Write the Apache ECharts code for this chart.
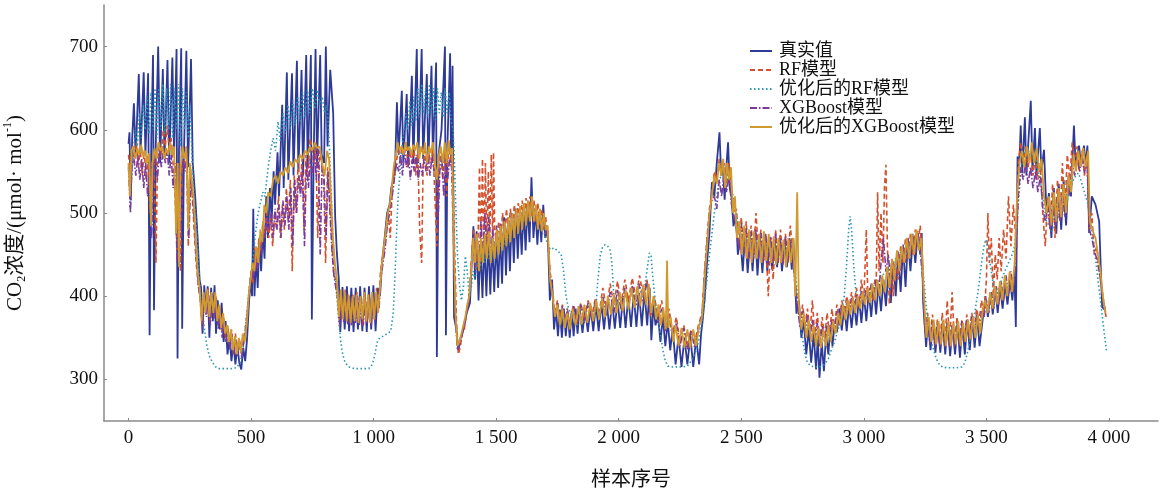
<!DOCTYPE html>
<html>
<head>
<meta charset="utf-8">
<script src="https://cdn.jsdelivr.net/npm/echarts@6/dist/echarts.min.js"></script>
<style>
  html, body { margin: 0; padding: 0; background: #fff; }
  #chart { width: 1166px; height: 494px; }
</style>
</head>
<body>
<div id="chart"></div>
<script>
const seriesNames = ['真实值', 'RF模型', '优化后的RF模型', 'XGBoost模型', '优化后的XGBoost模型'];
const xTicks = [0, 500, 1000, 1500, 2000, 2500, 3000, 3500, 4000];
const yTicks = [300, 400, 500, 600, 700];

// 真实值
const trueVals = [[0,583],[4,597],[9,515],[15,590],[22,632],[29,568],[42,667],[49,572],[62,669],[69,570],[80,668],[86,353],[93,590],[100,690],[104,383],[111,580],[121,700],[129,560],[140,673],[147,565],[159,684],[166,560],[179,687],[186,570],[196,697],[200,325],[206,575],[215,698],[219,361],[226,570],[236,695],[243,555],[255,685],[262,560],[272,520],[282,470],[290,420],
[296,410],[302,355],[309,413],[316,380],[323,412],[330,350],[337,410],[344,370],[351,413],[357,355],[364,395],[372,360],[380,392],[388,345],[396,370],[404,330],[412,352],[420,322],[428,345],[436,318],[444,340],[452,320],[460,312],[468,338],[476,322],[484,350],[492,395],[499,420],[504,400],[509,505],[514,400],[520,450],[527,410],[534,470],[541,430],[548,480],[555,445],[562,520],[569,470],[577,530],[584,490],
[592,550],[598,510],[608,573],[614,520],[627,630],[633,530],[646,669],[652,540],[667,668],[673,545],[687,683],[693,550],[706,672],[712,545],[725,690],[731,555],[744,690],[748,372],[755,560],[763,697],[769,560],[782,690],[788,570],[798,560],[805,700],[812,580],[823,672],[835,620],[843,496],[850,452],[858,420],
[864,357],[873,411],[882,360],[891,412],[900,358],[909,410],[918,357],[927,410],[936,360],[945,412],[954,358],[963,410],[972,357],[981,412],[990,360],[999,413],[1008,358],[1017,410],[1026,400],[1034,440],[1045,470],[1055,500],[1065,510],[1072,530],[1080,540],[1088,560],[1095,633],[1102,570],[1115,647],[1121,560],[1135,643],[1141,555],[1156,665],[1162,560],[1176,697],[1182,560],[1196,697],[1202,565],[1217,667],[1223,560],[1236,677],[1242,565],[1255,681],[1258,327],[1265,570],[1277,600],[1291,700],[1295,353],[1301,580],[1312,692],[1316,560],[1322,677],[1328,375],[1338,360],[1345,335],[1355,350],[1366,360],[1380,380],[1393,392],[1400,440],
[1407,484],[1414,420],[1420,478],[1428,395],[1436,462],[1444,398],[1452,466],[1460,400],[1468,470],[1476,402],[1484,465],[1492,405],[1500,470],[1508,410],[1516,475],[1524,415],[1532,495],[1540,425],[1548,490],[1556,430],[1564,500],[1572,440],[1580,505],[1588,445],[1596,500],[1604,450],[1612,505],[1620,455],[1628,510],[1636,465],[1644,543],[1652,470],[1660,505],[1668,462],[1676,500],[1684,465],[1692,510],[1700,470],[1710,480],[1719,395],[1728,420],[1736,360],[1744,385],[1752,352],[1760,384],[1768,350],[1776,385],[1784,352],[1792,380],[1800,350],[1808,382],[1816,352],[1824,385],[1832,355],[1840,387],
[1852,356],[1863,385],[1874,357],[1885,388],[1896,358],[1907,390],[1918,358],[1929,392],[1940,360],[1951,393],[1962,360],[1973,395],[1984,361],[1995,396],[2006,362],[2017,398],[2028,362],[2039,400],[2050,363],[2061,402],[2072,363],[2083,404],[2094,364],[2105,406],[2116,365],[2126,410],[2133,347],[2142,390],[2150,365],[2160,378],[2170,345],[2180,375],[2190,340],[2200,370],[2210,335],[2220,362],[2232,318],[2244,352],[2256,315],[2268,350],[2280,318],[2292,352],[2304,315],[2316,350],[2328,318],[2336,355],[2342,370],[2350,395],[2360,440],[2370,476],[2380,537],[2390,520],[2400,560],[2411,597],[2418,545],[2425,556],[2432,516],[2440,560],[2446,585],[2453,530],[2460,520],[2468,484],[2478,500],[2486,450],
[2496,470],[2506,430],[2516,478],[2526,428],[2536,472],[2546,430],[2556,480],[2566,425],[2576,470],[2586,428],[2596,475],[2606,430],[2616,470],[2626,432],[2636,468],[2646,435],[2656,470],[2666,430],[2676,465],[2686,435],[2696,470],[2706,432],[2712,470],[2725,379],[2735,395],[2745,350],[2755,370],[2765,330],[2775,360],[2785,320],[2795,355],[2805,312],[2812,350],[2819,302],[2828,345],[2837,310],[2846,355],[2855,330],[2864,365],[2872,340],[2880,365],
[2890,357],[2900,385],[2910,359],[2920,388],[2930,358],[2940,390],[2950,362],[2960,392],[2970,365],[2980,398],[2990,368],[3000,402],[3010,370],[3020,405],[3030,375],[3040,411],[3050,378],[3060,415],[3070,382],[3080,420],[3090,388],[3100,428],[3110,392],[3120,440],[3130,400],[3140,450],[3150,405],[3160,460],[3170,411],[3180,468],[3190,430],[3200,470],[3210,440],[3220,476],[3230,450],[3236,476],[3242,392],[3254,339],[3262,370],[3272,335],[3282,370],[3292,332],[3302,368],[3312,332],[3322,370],[3332,330],[3342,368],[3352,328],[3362,365],[3372,330],[3382,367],[3392,326],[3402,365],[3412,330],[3422,370],[3432,335],[3442,372],[3452,338],[3462,375],[3472,340],[3486,375],
[3496,400],[3506,375],[3516,405],[3526,378],[3536,410],[3546,380],[3556,411],[3566,385],[3576,415],[3586,390],[3596,420],[3606,395],[3614,430],[3620,363],[3627,568],[3633,550],[3640,605],[3646,548],[3657,615],[3663,545],[3681,635],[3688,550],[3698,602],[3704,545],[3718,602],[3724,550],[3735,576],[3745,500],[3755,524],[3765,470],[3775,530],[3785,475],[3795,535],[3805,480],[3815,540],[3825,485],[3835,545],[3845,520],[3857,605],[3864,557],[3878,581],[3886,557],[3898,581],[3905,557],[3912,581],[3919,476],[3930,520],[3945,510],[3960,490],[3972,387],[3986,383]];

// RF模型
const rfVals = [[0,570],[8,545],[16,580],[24,560],[32,585],[40,555],[48,578],[56,545],[64,575],[72,540],[80,570],[88,500],[96,560],[104,570],[112,440],[118,560],[126,585],[134,570],[142,600],[150,580],[158,605],[166,575],[174,590],[182,560],[190,520],[198,455],[204,560],[212,430],[220,575],[228,560],[236,580],[244,460],[252,555],[260,520],[268,480],[276,440],[284,415],[292,400],[300,365],[308,405],[316,378],[324,410],[332,370],[340,405],[348,375],[356,400],[364,365],[372,385],[380,358],[388,375],[396,350],[404,365],[412,342],[420,360],[428,330],[436,355],[444,335],[452,350],[460,330],[468,345],[476,360],[484,380],[492,405],[500,430],[508,415],[516,460],[524,440],[532,470],[540,455],[548,490],[556,475],[564,500],[572,470],[580,495],[588,460],[596,500],[604,480],[612,520],[620,470],[628,510],[636,480],[644,530],[652,490],[660,540],[668,430],[676,545],[684,500],[692,560],[700,530],[708,565],[716,480],[724,570],[732,540],[740,590],[748,580],[756,560],[764,580],[772,470],[780,575],[788,560],[796,545],[804,440],[812,555],[820,520],[828,480],[836,430],[844,420],[852,405],[860,370],[868,405],[876,372],[884,408],[892,370],[900,400],[908,368],[916,402],[924,370],[932,405],[940,372],[948,400],[956,365],[964,400],[972,368],[980,402],[988,370],[996,400],[1004,372],[1012,410],[1020,385],[1028,430],[1036,445],[1044,460],[1052,480],[1060,500],[1068,470],[1076,530],[1084,540],[1092,560],[1100,575],[1108,565],[1116,580],[1124,570],[1132,585],[1140,555],[1148,575],[1156,560],[1164,580],[1172,545],[1180,575],[1188,480],[1196,440],[1202,560],[1210,575],[1218,545],[1226,570],[1234,560],[1242,578],[1250,520],[1258,460],[1266,560],[1274,575],[1282,540],[1290,580],[1298,520],[1306,585],[1314,560],[1322,580],[1330,460],[1338,370],[1346,330],[1354,340],[1362,355],[1370,360],[1378,380],[1386,390],[1394,420],[1402,460],[1410,480],[1418,430],[1426,470],[1432,555],[1438,440],[1444,565],[1450,450],[1456,560],[1462,460],[1468,550],[1474,470],[1480,570],[1486,455],[1489,573],[1494,480],[1502,460],[1510,490],[1518,465],[1526,500],[1534,470],[1542,505],[1550,475],[1558,505],[1566,480],[1574,510],[1582,485],[1590,512],[1598,490],[1606,515],[1614,492],[1622,518],[1630,495],[1638,520],[1646,495],[1654,515],[1662,490],[1670,512],[1678,485],[1686,505],[1694,480],[1702,495],[1710,470],[1720,430],[1730,405],[1740,380],[1750,395],[1760,370],[1770,390],[1780,365],[1790,385],[1800,365],[1815,390],[1830,368],[1845,392],[1860,372],[1875,395],[1890,375],[1905,398],[1920,378],[1935,410],[1950,385],[1965,415],[1980,390],[1995,418],[2010,392],[2025,420],[2040,395],[2055,422],[2070,398],[2085,425],[2100,400],[2115,420],[2130,375],[2145,400],[2160,375],[2175,395],[2190,365],[2205,385],[2220,355],[2235,375],[2250,345],[2265,365],[2280,340],[2295,360],[2310,345],[2325,365],[2340,380],[2350,430],[2360,470],[2370,505],[2380,525],[2390,550],[2400,540],[2410,565],[2420,545],[2430,560],[2440,535],[2450,560],[2460,530],[2470,500],[2480,505],[2490,460],[2500,495],[2510,455],[2520,490],[2530,445],[2540,485],[2550,450],[2560,500],[2570,455],[2580,480],[2590,440],[2600,470],[2610,400],[2620,470],[2630,420],[2640,480],[2650,440],[2660,480],[2670,440],[2680,475],[2690,445],[2700,485],[2710,450],[2720,420],[2730,390],[2740,370],[2750,390],[2760,365],[2770,385],[2780,355],[2790,395],[2800,350],[2810,380],[2820,345],[2830,375],[2840,350],[2850,380],[2860,355],[2870,385],[2880,360],[2890,390],[2900,370],[2910,395],[2920,380],[2930,400],[2940,385],[2950,405],[2960,390],[2970,410],[2980,385],[2990,420],[3000,395],[3010,480],[3016,400],[3025,410],[3035,395],[3045,420],[3050,410],[3056,525],[3062,430],[3070,500],[3078,440],[3084,530],[3090,558],[3096,460],[3104,390],[3112,440],[3120,400],[3130,445],[3140,420],[3150,460],[3160,440],[3170,470],[3180,445],[3190,475],[3200,450],[3210,480],[3220,460],[3230,485],[3240,430],[3250,360],[3260,380],[3270,350],[3280,378],[3290,345],[3300,372],[3310,345],[3320,380],[3330,340],[3340,395],[3350,345],[3360,405],[3370,340],[3380,375],[3390,345],[3400,372],[3410,348],[3420,378],[3430,352],[3440,380],[3450,360],[3460,385],[3470,370],[3480,395],[3490,375],[3500,420],[3506,500],[3512,440],[3520,470],[3528,400],[3536,450],[3544,420],[3552,470],[3560,430],[3570,480],[3580,445],[3590,520],[3600,460],[3610,510],[3620,470],[3630,560],[3640,585],[3650,560],[3660,580],[3670,555],[3680,575],[3690,545],[3700,570],[3710,540],[3720,560],[3730,500],[3740,460],[3750,520],[3760,480],[3770,535],[3780,470],[3790,540],[3800,490],[3810,560],[3820,500],[3830,570],[3840,540],[3850,585],[3860,555],[3870,580],[3880,550],[3890,575],[3900,545],[3910,570],[3920,480],[3930,500],[3940,450],[3950,460],[3960,430],[3970,410],[3980,390],[3988,375]];

// 优化后的RF模型
const rfOptVals = [[5,507],[12,540],[20,575],[28,600],[36,580],[44,620],[52,590],[60,630],[68,600],[76,640],[84,595],[92,645],[100,600],[108,650],[116,590],[124,650],[132,600],[140,655],[148,595],[156,650],[164,600],[172,655],[180,590],[188,650],[196,600],[204,655],[212,580],[220,650],[228,600],[236,645],[244,590],[252,630],[260,560],[268,520],[276,490],[284,450],[292,410],[300,385],[310,360],[320,340],[330,328],[340,322],[352,316],[364,313],[380,313],[400,313],[420,313],[440,314],[456,320],[466,335],[476,360],[486,390],[496,420],[506,440],[516,470],[524,490],[532,505],[540,515],[548,525],[556,520],[564,540],[572,560],[580,575],[590,590],[600,575],[610,610],[620,585],[630,620],[640,595],[650,630],[660,600],[670,635],[680,605],[690,640],[700,610],[710,645],[720,615],[730,648],[740,620],[750,650],[760,625],[770,648],[780,630],[790,640],[800,620],[810,630],[818,590],[826,530],[834,470],[842,430],[850,400],[858,370],[866,345],[874,330],[882,322],[890,318],[900,315],[920,313],[940,313],[960,313],[980,313],[995,318],[1005,330],[1015,345],[1025,350],[1040,352],[1055,355],[1070,358],[1080,380],[1088,430],[1094,480],[1100,520],[1108,550],[1116,580],[1124,600],[1132,620],[1140,600],[1148,635],[1156,605],[1164,640],[1172,610],[1180,650],[1188,615],[1196,655],[1204,620],[1212,650],[1220,615],[1228,655],[1236,620],[1244,650],[1252,610],[1260,650],[1268,620],[1276,645],[1284,615],[1292,650],[1300,620],[1308,645],[1316,610],[1324,600],[1330,560],[1336,500],[1342,450],[1350,415],[1358,395],[1366,410],[1374,448],[1382,430],[1390,400],[1398,410],[1406,430],[1414,420],[1422,440],[1432,430],[1442,450],[1452,440],[1462,455],[1472,445],[1482,460],[1492,450],[1502,465],[1512,455],[1522,470],[1532,462],[1542,478],[1552,470],[1562,485],[1572,478],[1582,492],[1592,485],[1602,498],[1612,490],[1622,502],[1632,495],[1642,505],[1652,495],[1662,500],[1672,490],[1682,495],[1692,480],[1702,470],[1712,460],[1722,456],[1735,458],[1750,455],[1765,450],[1775,430],[1785,400],[1795,385],[1805,378],[1820,370],[1835,365],[1850,368],[1865,372],[1880,375],[1895,372],[1905,380],[1915,420],[1925,450],[1935,460],[1945,462],[1955,460],[1965,455],[1972,440],[1980,400],[1990,385],[2000,390],[2015,395],[2030,392],[2045,398],[2060,395],[2075,400],[2090,398],[2105,410],[2115,430],[2125,452],[2132,448],[2140,420],[2150,390],[2160,370],[2170,355],[2180,335],[2190,322],[2200,316],[2220,315],[2240,315],[2260,315],[2280,316],[2295,322],[2310,330],[2325,345],[2340,370],[2350,395],[2360,420],[2370,450],[2380,475],[2390,500],[2400,520],[2410,540],[2420,545],[2430,555],[2440,540],[2450,550],[2460,530],[2470,515],[2480,500],[2490,480],[2500,470],[2515,465],[2530,460],[2545,458],[2560,462],[2575,455],[2590,458],[2605,452],[2620,455],[2635,450],[2650,455],[2665,450],[2680,455],[2695,450],[2710,448],[2720,430],[2730,400],[2740,370],[2750,350],[2760,330],[2770,320],[2785,316],[2800,315],[2820,315],[2840,318],[2855,325],[2870,338],[2880,345],[2890,355],[2900,365],[2910,380],[2920,400],[2930,440],[2938,480],[2944,496],[2950,480],[2958,440],[2966,410],[2974,395],[2985,390],[3000,395],[3015,400],[3030,405],[3045,410],[3060,418],[3075,425],[3090,430],[3105,435],[3120,440],[3135,448],[3150,452],[3165,458],[3180,462],[3195,465],[3210,468],[3225,465],[3235,450],[3245,420],[3255,385],[3265,360],[3275,345],[3285,335],[3295,325],[3308,318],[3320,315],[3340,314],[3360,314],[3380,314],[3400,315],[3412,320],[3425,335],[3440,360],[3455,385],[3468,410],[3480,440],[3490,460],[3497,468],[3505,460],[3515,440],[3525,420],[3538,400],[3550,410],[3562,420],[3575,430],[3590,440],[3605,450],[3615,460],[3625,490],[3635,530],[3645,560],[3655,575],[3665,580],[3675,570],[3685,575],[3695,560],[3705,565],[3715,545],[3725,530],[3735,510],[3745,490],[3755,485],[3765,478],[3775,485],[3785,490],[3795,495],[3805,500],[3815,505],[3825,510],[3835,520],[3845,530],[3855,540],[3865,545],[3875,548],[3885,540],[3895,530],[3905,520],[3915,510],[3925,490],[3935,470],[3945,445],[3955,420],[3965,395],[3975,370],[3985,345],[3990,335]];

// XGBoost模型
const xgbVals = [[0,555],[8,500],[14,560],[22,565],[30,545],[38,570],[46,540],[54,565],[62,530],[70,560],[78,520],[86,555],[94,470],[102,550],[110,565],[118,540],[126,575],[134,555],[142,580],[150,560],[158,575],[166,545],[174,570],[182,530],[190,560],[198,440],[206,550],[214,470],[222,565],[230,550],[238,570],[246,470],[254,540],[262,520],[270,480],[278,440],[286,410],[294,395],[302,360],[310,400],[318,375],[326,405],[334,365],[342,400],[350,372],[358,398],[366,360],[374,380],[382,350],[390,370],[398,345],[406,360],[414,335],[422,355],[430,330],[438,348],[446,328],[454,345],[462,325],[470,345],[478,355],[486,380],[494,410],[502,430],[510,420],[518,455],[526,430],[534,465],[542,450],[550,485],[558,470],[566,495],[574,480],[582,500],[590,470],[598,505],[606,480],[614,510],[622,470],[630,515],[638,485],[646,520],[654,480],[662,530],[670,460],[678,540],[686,500],[694,545],[702,520],[710,555],[718,460],[726,560],[734,530],[742,565],[750,545],[758,575],[766,540],[774,580],[782,450],[790,560],[798,540],[806,470],[814,550],[822,500],[830,455],[838,425],[846,410],[854,395],[862,365],[870,400],[878,368],[886,402],[894,366],[902,400],[910,365],[918,398],[926,368],[934,400],[942,365],[950,398],[958,365],[966,400],[974,368],[982,400],[990,365],[998,398],[1006,370],[1014,405],[1022,385],[1030,420],[1038,440],[1046,455],[1054,480],[1062,495],[1070,510],[1078,525],[1086,545],[1094,560],[1102,550],[1110,570],[1118,545],[1126,575],[1134,555],[1142,570],[1150,540],[1158,565],[1166,550],[1174,570],[1182,540],[1190,560],[1198,545],[1206,565],[1214,550],[1222,570],[1230,545],[1238,568],[1246,550],[1254,555],[1262,480],[1270,550],[1278,570],[1286,520],[1294,560],[1302,540],[1310,565],[1318,555],[1326,470],[1334,370],[1342,335],[1350,340],[1358,350],[1366,360],[1374,370],[1382,385],[1390,400],[1398,430],[1406,465],[1414,435],[1422,470],[1430,440],[1438,490],[1446,445],[1454,500],[1462,450],[1470,495],[1478,445],[1486,480],[1494,450],[1502,485],[1510,455],[1518,488],[1526,460],[1534,492],[1542,465],[1550,495],[1558,470],[1566,500],[1574,475],[1582,505],[1590,478],[1598,508],[1606,482],[1614,510],[1622,485],[1630,515],[1638,490],[1646,518],[1654,488],[1662,510],[1670,482],[1678,505],[1686,478],[1694,500],[1702,475],[1710,480],[1720,420],[1730,400],[1740,372],[1750,392],[1760,365],[1770,388],[1780,362],[1790,385],[1800,362],[1815,388],[1830,365],[1845,390],[1860,368],[1875,392],[1890,370],[1905,395],[1920,373],[1935,400],[1950,377],[1965,405],[1980,380],[1995,408],[2010,383],[2025,410],[2040,386],[2055,413],[2070,388],[2085,415],[2100,392],[2115,418],[2130,380],[2145,395],[2160,368],[2175,385],[2190,358],[2205,378],[2220,348],[2235,368],[2250,340],[2265,362],[2280,336],[2295,358],[2310,338],[2325,360],[2340,378],[2350,425],[2360,465],[2370,500],[2380,515],[2390,520],[2400,505],[2410,540],[2420,520],[2430,550],[2440,525],[2450,545],[2460,510],[2470,495],[2480,480],[2490,455],[2500,488],[2510,448],[2520,482],[2530,442],[2540,478],[2550,445],[2560,480],[2570,445],[2580,476],[2590,440],[2600,475],[2610,438],[2620,472],[2630,440],[2640,475],[2650,440],[2660,470],[2670,438],[2680,472],[2690,440],[2700,468],[2710,445],[2720,410],[2730,385],[2740,362],[2750,382],[2760,355],[2770,378],[2780,350],[2790,372],[2800,345],[2810,368],[2820,340],[2830,365],[2840,345],[2850,368],[2860,350],[2870,372],[2880,358],[2890,382],[2900,365],[2910,388],[2920,372],[2930,392],[2940,378],[2950,398],[2960,382],[2970,402],[2980,386],[2990,406],[3000,390],[3010,410],[3020,392],[3030,415],[3040,395],[3050,420],[3060,400],[3070,440],[3080,470],[3090,430],[3100,450],[3110,410],[3120,440],[3130,420],[3140,455],[3150,430],[3160,462],[3170,440],[3180,470],[3190,448],[3200,475],[3210,452],[3220,478],[3230,455],[3240,420],[3250,355],[3260,372],[3270,342],[3280,370],[3290,340],[3300,368],[3310,338],[3320,366],[3330,340],[3340,368],[3350,338],[3360,365],[3370,340],[3380,368],[3390,342],[3400,370],[3410,345],[3420,372],[3430,348],[3440,375],[3450,352],[3460,378],[3470,358],[3480,382],[3490,375],[3500,395],[3510,380],[3520,405],[3530,385],[3540,412],[3550,390],[3560,418],[3570,395],[3580,425],[3590,400],[3600,430],[3610,405],[3620,440],[3630,520],[3640,555],[3650,540],[3660,560],[3670,535],[3680,555],[3690,530],[3700,550],[3710,525],[3720,545],[3730,505],[3740,490],[3750,510],[3760,480],[3770,515],[3780,485],[3790,520],[3800,490],[3810,525],[3820,495],[3830,535],[3840,520],[3850,560],[3860,545],[3870,565],[3880,550],[3890,568],[3900,548],[3910,565],[3920,480],[3930,470],[3940,455],[3950,445],[3960,430],[3970,410],[3980,390],[3988,378]];

// 优化后的XGBoost模型
const xgbOptVals = [[0,560],[6,520],[12,575],[20,580],[28,565],[36,578],[44,570],[52,582],[60,568],[68,575],[76,560],[84,572],[92,484],[98,560],[106,578],[114,565],[122,585],[130,575],[138,580],[146,565],[154,578],[162,570],[170,585],[178,570],[186,580],[194,475],[200,560],[206,435],[212,550],[220,580],[228,565],[236,578],[244,480],[250,560],[258,540],[266,515],[274,470],[282,430],[290,410],[298,370],[306,405],[314,380],[322,408],[330,375],[338,405],[346,380],[354,405],[362,370],[370,390],[378,362],[386,380],[394,355],[402,365],[410,345],[418,360],[426,335],[434,352],[442,330],[450,350],[458,332],[466,355],[474,345],[482,365],[490,400],[498,420],[506,440],[514,430],[522,460],[530,440],[538,480],[546,465],[554,510],[562,500],[570,525],[580,520],[590,540],[600,545],[610,535],[620,550],[630,545],[640,555],[650,548],[660,562],[670,555],[680,565],[690,560],[700,570],[710,565],[720,575],[730,570],[740,580],[750,575],[760,585],[770,578],[780,580],[790,560],[800,545],[810,575],[818,565],[826,520],[834,470],[842,440],[850,420],[858,375],[866,408],[874,372],[882,405],[890,370],[898,402],[906,368],[914,400],[922,370],[930,402],[938,368],[946,400],[954,372],[962,405],[970,370],[978,402],[986,368],[994,405],[1002,372],[1010,405],[1018,380],[1026,410],[1034,440],[1042,460],[1050,480],[1058,500],[1066,510],[1074,530],[1082,555],[1090,570],[1098,585],[1106,575],[1114,580],[1122,570],[1130,585],[1138,575],[1146,580],[1154,570],[1162,582],[1170,575],[1178,585],[1186,565],[1194,580],[1202,570],[1210,585],[1218,560],[1226,580],[1234,572],[1242,585],[1250,560],[1258,540],[1266,570],[1274,580],[1282,560],[1290,585],[1298,560],[1306,588],[1314,570],[1320,578],[1326,480],[1334,380],[1342,340],[1350,345],[1358,355],[1366,365],[1374,375],[1382,390],[1390,400],[1398,430],[1406,470],[1414,440],[1422,475],[1430,430],[1438,470],[1446,440],[1454,475],[1462,445],[1470,478],[1478,440],[1486,470],[1494,445],[1502,480],[1510,450],[1518,485],[1526,455],[1534,490],[1542,460],[1550,495],[1558,465],[1566,500],[1574,470],[1582,505],[1590,475],[1598,508],[1606,480],[1614,512],[1622,485],[1630,515],[1638,490],[1646,520],[1654,490],[1662,510],[1670,480],[1678,505],[1686,478],[1694,500],[1702,480],[1710,485],[1720,420],[1730,400],[1740,375],[1750,390],[1760,365],[1770,385],[1780,362],[1790,380],[1800,360],[1812,385],[1824,365],[1836,388],[1848,366],[1860,390],[1872,368],[1884,392],[1896,370],[1908,395],[1920,372],[1932,398],[1944,375],[1956,400],[1968,378],[1980,402],[1992,380],[2004,405],[2016,382],[2028,407],[2040,384],[2052,410],[2064,386],[2076,412],[2088,388],[2100,414],[2112,390],[2122,415],[2132,380],[2142,400],[2152,372],[2162,390],[2172,365],[2182,385],[2192,360],[2197,443],[2202,362],[2212,375],[2222,345],[2232,365],[2244,340],[2256,362],[2268,338],[2280,360],[2292,338],[2304,360],[2316,340],[2328,365],[2340,375],[2350,420],[2360,460],[2370,500],[2380,520],[2390,545],[2400,535],[2410,560],[2418,545],[2426,565],[2434,530],[2442,560],[2450,540],[2458,555],[2466,500],[2474,520],[2482,470],[2492,490],[2502,450],[2512,485],[2522,445],[2532,480],[2542,440],[2552,478],[2562,445],[2572,475],[2582,440],[2592,478],[2602,442],[2612,475],[2622,440],[2632,472],[2642,438],[2652,470],[2662,440],[2672,468],[2682,435],[2692,470],[2702,440],[2712,470],[2720,400],[2728,525],[2735,390],[2745,360],[2755,380],[2765,350],[2775,372],[2785,345],[2795,365],[2805,340],[2815,362],[2825,338],[2835,360],[2845,340],[2855,365],[2865,345],[2875,370],[2885,355],[2895,380],[2905,365],[2915,390],[2925,372],[2935,395],[2945,378],[2955,398],[2965,380],[2975,400],[2985,385],[2995,405],[3005,390],[3015,410],[3025,392],[3035,415],[3045,395],[3055,420],[3065,400],[3075,425],[3085,405],[3095,435],[3105,410],[3115,445],[3125,420],[3135,455],[3145,430],[3155,460],[3165,440],[3175,470],[3185,445],[3195,475],[3205,450],[3215,480],[3225,455],[3235,470],[3245,400],[3255,350],[3265,375],[3275,345],[3285,372],[3295,342],[3305,370],[3315,342],[3325,372],[3335,340],[3345,370],[3355,340],[3365,368],[3375,342],[3385,370],[3395,340],[3405,368],[3415,345],[3425,372],[3435,348],[3445,375],[3455,350],[3465,378],[3475,355],[3485,385],[3495,395],[3505,380],[3515,405],[3525,385],[3535,412],[3545,390],[3555,418],[3565,395],[3575,425],[3585,400],[3595,430],[3605,405],[3615,440],[3625,520],[3635,560],[3645,575],[3655,555],[3665,580],[3675,560],[3685,585],[3695,560],[3705,578],[3715,550],[3725,565],[3735,520],[3745,500],[3755,520],[3765,485],[3775,525],[3785,490],[3795,530],[3805,495],[3815,535],[3825,500],[3835,545],[3845,525],[3855,570],[3865,550],[3875,575],[3885,555],[3895,578],[3905,555],[3915,575],[3922,490],[3932,480],[3945,470],[3955,450],[3965,430],[3975,400],[3985,380]];

const seriesData = [trueVals, rfVals, rfOptVals, xgbVals, xgbOptVals];
const colors = ['#2e3a98', '#d4502c', '#2b96b3', '#7a3c9c', '#d19a2e'];
const lineTypes = ['solid', [5, 3], [1.5, 2.5], [7, 2, 1.5, 2], 'solid'];
const lineWidths = [1.8, 1.6, 1.6, 1.6, 1.8];

const font = '"Liberation Serif", "Noto Sans CJK SC", serif';

var chartDom = document.getElementById('chart');
var myChart = echarts.init(chartDom);

var option = {
    animation: false,
    color: colors,
    grid: {
        left: 104,
        right: 8,
        top: 5,
        bottom: 73,
        outerBoundsMode: 'none'
    },
    legend: {
        orient: 'vertical',
        left: 744,
        top: 37,
        itemWidth: 22,
        itemHeight: 4,
        itemGap: 1,
        selectedMode: false,
        itemStyle: { opacity: 0 },
        textStyle: {
            fontFamily: font,
            fontSize: 18,
            color: '#111',
            padding: [0, 0, 0, 2]
        },
        data: seriesNames
    },
    xAxis: {
        type: 'value',
        min: -100,
        max: 4200,
        name: '样本序号',
        nameLocation: 'middle',
        nameGap: 50,
        nameTextStyle: { fontFamily: font, fontSize: 20, color: '#111' },
        axisLine: { onZero: false, lineStyle: { color: '#8a8a8a', width: 1.5 } },
        axisTick: { inside: true, length: 3, customValues: xTicks, lineStyle: { color: '#8a8a8a' } },
        axisLabel: {
            customValues: xTicks,
            margin: 8,
            fontFamily: font,
            fontSize: 19,
            color: '#111',
            formatter: function (v) {
                return v >= 1000 ? Math.floor(v / 1000) + ' ' + String(v % 1000).padStart(3, '0') : String(v);
            }
        },
        splitLine: { show: false }
    },
    yAxis: {
        type: 'value',
        min: 250,
        max: 750,
        name: '{a|CO}{sub|2}{a|浓度/(μmol· mol}{sup|-1}{a|)}',
        nameLocation: 'middle',
        nameGap: 76,
        nameRotate: 90,
        nameTextStyle: {
            fontFamily: font,
            fontSize: 21,
            color: '#111',
            rich: {
                a: { fontFamily: font, fontSize: 21, color: '#111', lineHeight: 26 },
                sub: { fontFamily: font, fontSize: 12, color: '#111', verticalAlign: 'bottom', lineHeight: 26, padding: [9, 0, 0, 0] },
                sup: { fontFamily: font, fontSize: 12, color: '#111', verticalAlign: 'top', lineHeight: 26, padding: [0, 0, 9, 0] }
            }
        },
        axisLine: { show: true, onZero: false, lineStyle: { color: '#8a8a8a', width: 1.5 } },
        axisTick: { show: true, inside: true, length: 3, customValues: yTicks, lineStyle: { color: '#8a8a8a' } },
        axisLabel: {
            customValues: yTicks,
            margin: 6,
            fontFamily: font,
            fontSize: 19,
            color: '#111'
        },
        splitLine: { show: false }
    },
    series: seriesNames.map(function (name, i) {
        return {
            name: name,
            type: 'line',
            data: seriesData[i],
            showSymbol: false,
            symbol: 'none',
            lineStyle: { color: colors[i], width: lineWidths[i], type: lineTypes[i] },
            itemStyle: { color: colors[i] },
            z: 2 + i
        };
    })
};

option && myChart.setOption(option);
</script>
</body>
</html>
